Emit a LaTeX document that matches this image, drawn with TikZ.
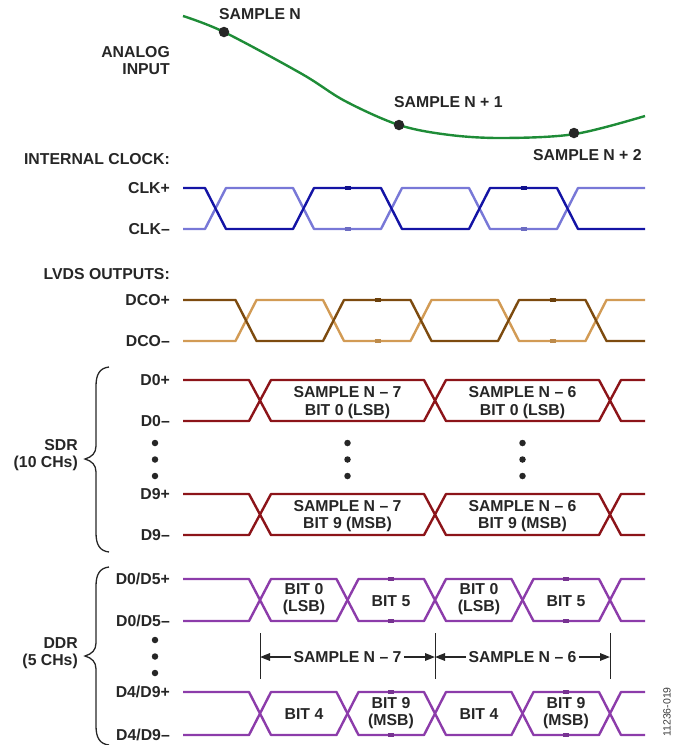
\documentclass[tikz,border=0pt]{standalone}
\usepackage{fontspec}
\setmainfont{Liberation Sans}
\usetikzlibrary{arrows.meta}
\definecolor{clkdark}{RGB}{20,20,165}
\definecolor{clklight}{RGB}{120,120,215}
\definecolor{dcodark}{RGB}{125,75,15}
\definecolor{dcolight}{RGB}{210,155,85}
\definecolor{sdrred}{RGB}{140,20,25}
\definecolor{ddrpurple}{RGB}{140,60,170}
\definecolor{analoggreen}{RGB}{30,140,55}
\definecolor{notegray}{RGB}{60,60,60}
\begin{document}
\begin{tikzpicture}[x=1pt,y=-1pt,
  lbl/.style={font=\fontsize{15.8}{17.5}\selectfont\bfseries, inner sep=0pt, text=black!85},
  rowlbl/.style={lbl, anchor=east},
  eyetext/.style={lbl, align=center},
  wave/.style={line width=2.4pt, line join=round},
  nub/.style={line width=3.6pt},
  brace/.style={line width=1.3pt, black!85},
  dim/.style={line width=0.8pt, black!85},
  dimarrow/.style={line width=1.6pt, black!85, -{Triangle[length=10pt,width=7.5pt]}},
  sdot/.style={circle, fill=black!85, inner sep=0pt, minimum size=10.5pt},
  vdot/.style={circle, fill=black!85, inner sep=0pt, minimum size=6.5pt}
]
\useasboundingbox (0,0) rectangle (675,745);

% ---------- analog input ----------
\draw[analoggreen, line width=2.4pt] plot[smooth, tension=0.55] coordinates
  {(183,16) (224,32) (302,74) (345,101) (399,125) (450,135) (504,138) (575,134) (645,116)};
\node[sdot] (sn0) at (224,32) {};
\node[sdot] (sn1) at (399,125) {};
\node[sdot] (sn2) at (574,133) {};
\node[lbl, anchor=west] (lsn0) at (219,14) {SAMPLE N};
\node[lbl, anchor=west] (lsn1) at (394,102) {SAMPLE N + 1};
\node[lbl, anchor=west] (lsn2) at (533,155) {SAMPLE N + 2};
\node[lbl, anchor=east, align=right] (ain) at (170,60.5) {ANALOG\\INPUT};

% ---------- internal clock ----------
\node[rowlbl] (ic) at (170,159) {INTERNAL CLOCK:};
\node[rowlbl] (clkp) at (170,188) {CLK+};
\node[rowlbl] (clkm) at (170,229) {CLK–};
\draw[wave, clklight] (183,229) -- (205,229) -- (226,188) -- (293,188) -- (314,229) -- (381,229)
  -- (402,188) -- (469,188) -- (490,229) -- (557,229) -- (578,188) -- (645,188);
\draw[wave, clkdark] (183,188) -- (205,188) -- (226,229) -- (293,229) -- (314,188) -- (381,188)
  -- (402,229) -- (469,229) -- (490,188) -- (557,188) -- (578,229) -- (645,229);
\foreach \x in {347.5,523.5}{
  \draw[nub, clkdark!85!black] (\x-3,188) -- (\x+3,188);
  \draw[nub, clklight!90!black] (\x-3,229) -- (\x+3,229);
}

% ---------- LVDS DCO ----------
\node[rowlbl] (lvds) at (170,274) {LVDS OUTPUTS:};
\node[rowlbl] (dcop) at (170,300) {DCO+};
\node[rowlbl] (dcom) at (170,341) {DCO–};
\draw[wave, dcolight] (183,341) -- (235.5,341) -- (256.5,300) -- (323,300) -- (344,341) -- (410.5,341)
  -- (431.5,300) -- (498,300) -- (519,341) -- (585.5,341) -- (606.5,300) -- (645,300);
\draw[wave, dcodark] (183,300) -- (235.5,300) -- (256.5,341) -- (323,341) -- (344,300) -- (410.5,300)
  -- (431.5,341) -- (498,341) -- (519,300) -- (585.5,300) -- (606.5,341) -- (645,341);
\foreach \x in {377.5,552.5}{
  \draw[nub, dcodark!85!black] (\x-3,300) -- (\x+3,300);
  \draw[nub, dcolight!90!black] (\x-3,341) -- (\x+3,341);
}

% ---------- SDR ----------
\node[rowlbl] (d0p) at (170,380) {D0+};
\node[rowlbl] (d0m) at (170,421) {D0–};
\node[rowlbl] (d9p) at (170,494) {D9+};
\node[rowlbl] (d9m) at (170,535) {D9–};
\foreach \t/\b in {380/421, 494/535}{
  \draw[wave, sdrred] (183,\t) -- (249,\t) -- (271,\b) -- (424,\b) -- (446,\t) -- (599,\t) -- (621,\b) -- (645,\b);
  \draw[wave, sdrred] (183,\b) -- (249,\b) -- (271,\t) -- (424,\t) -- (446,\b) -- (599,\b) -- (621,\t) -- (645,\t);
}
\node[eyetext] (s7b0) at (347.5,402.5) {SAMPLE N – 7\\BIT 0 (LSB)};
\node[eyetext] (s6b0) at (522.5,402.5) {SAMPLE N – 6\\BIT 0 (LSB)};
\node[eyetext] (s7b9) at (347.5,516) {SAMPLE N – 7\\BIT 9 (MSB)};
\node[eyetext] (s6b9) at (522.5,516) {SAMPLE N – 6\\BIT 9 (MSB)};
\foreach \x [count=\i] in {155,347.5,522.5}{
  \node[vdot] (sa\i) at (\x,443) {};
  \node[vdot] (sb\i) at (\x,459.5) {};
  \node[vdot] (sc\i) at (\x,476) {};
}
\node[lbl, anchor=east, align=right] (sdr) at (78,455) {SDR\\(10 CHs)};
\draw[brace] (109,367) .. controls (100,368) and (96,374) .. (96,386) -- (96,446)
  .. controls (96,453) and (92,457) .. (85,459) .. controls (92,461) and (96,465) .. (96,472)
  -- (96,533) .. controls (96,545) and (100,551) .. (109,552);

% ---------- DDR ----------
\node[rowlbl] (d05p) at (170,579) {D0/D5+};
\node[rowlbl] (d05m) at (170,621) {D0/D5–};
\node[rowlbl] (d49p) at (170,692) {D4/D9+};
\node[rowlbl] (d49m) at (170,735) {D4/D9–};
\foreach \t/\b in {579/621, 692/735}{
  \draw[wave, ddrpurple] (183,\t) -- (249,\t) -- (271,\b) -- (336.5,\b) -- (358.5,\t) -- (424,\t) -- (446,\b)
    -- (511.5,\b) -- (533.5,\t) -- (599,\t) -- (621,\b) -- (645,\b);
  \draw[wave, ddrpurple] (183,\b) -- (249,\b) -- (271,\t) -- (336.5,\t) -- (358.5,\b) -- (424,\b) -- (446,\t)
    -- (511.5,\t) -- (533.5,\b) -- (599,\b) -- (621,\t) -- (645,\t);
  \foreach \x in {391.25,566.25}{
    \draw[nub, ddrpurple!85!black] (\x-3,\t) -- (\x+3,\t);
    \draw[nub, ddrpurple!85!black] (\x-3,\b) -- (\x+3,\b);
  }
}
\node[eyetext] (e1) at (304,599) {BIT 0\\(LSB)};
\node[eyetext] (e2) at (391,601) {BIT 5};
\node[eyetext] (e3) at (479,599) {BIT 0\\(LSB)};
\node[eyetext] (e4) at (566,601) {BIT 5};
\node[eyetext] (f1) at (304,714) {BIT 4};
\node[eyetext] (f2) at (391,713) {BIT 9\\(MSB)};
\node[eyetext] (f3) at (479,714) {BIT 4};
\node[eyetext] (f4) at (566,713) {BIT 9\\(MSB)};
\node[vdot] (da) at (155,640) {};
\node[vdot] (db) at (155,656.5) {};
\node[vdot] (dc) at (155,673) {};
\node[lbl, anchor=east, align=right] (ddr) at (78,653) {DDR\\(5 CHs)};
\draw[brace] (109,567) .. controls (100,568) and (96,574) .. (96,586) -- (96,643)
  .. controls (96,650) and (92,654) .. (85,656) .. controls (92,658) and (96,662) .. (96,669)
  -- (96,726) .. controls (96,738) and (100,744) .. (109,745);

% dimension lines
\coordinate (v1t) at (260,633); \coordinate (v1b) at (260,679);
\coordinate (v2t) at (435,633); \coordinate (v2b) at (435,679);
\coordinate (v3t) at (610,633); \coordinate (v3b) at (610,679);
\draw[dim] (v1t) -- (v1b);
\draw[dim] (v2t) -- (v2b);
\draw[dim] (v3t) -- (v3b);
\node[lbl, inner xsep=2.5pt] (dn7) at (347.5,657) {SAMPLE N – 7};
\node[lbl, inner xsep=2.5pt] (dn6) at (522.5,657) {SAMPLE N – 6};
\draw[dimarrow] (dn7.west) -- (v1t |- dn7.west);
\draw[dimarrow] (dn7.east) -- (v2t |- dn7.east);
\draw[dimarrow] (dn6.west) -- (v2t |- dn6.west);
\draw[dimarrow] (dn6.east) -- (v3t |- dn6.east);

% figure number
\node[rotate=90, font=\fontsize{10.5}{11}\selectfont, text=notegray, inner sep=0pt] (fig) at (667,712) {11236-019};
\end{tikzpicture}
\end{document}
